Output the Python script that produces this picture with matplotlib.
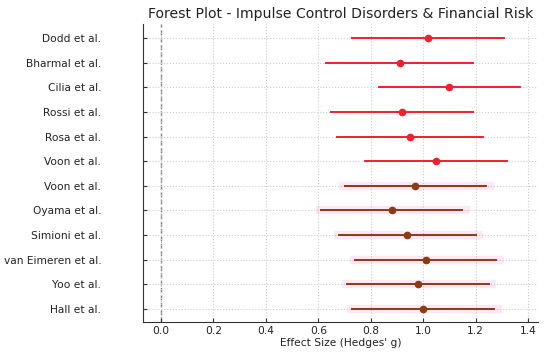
import numpy as np
import matplotlib.pyplot as plt

# study data
studies = ['Dodd et al.', 'Bharmal et al.', 'Cilia et al.', 'Rossi et al.', 'Rosa et al.',
           'Voon et al.', 'Voon et al.', 'Oyama et al.', 'Simioni et al.',
           'van Eimeren et al.', 'Yoo et al.', 'Hall et al.']
effect = [1.02, 0.91, 1.10, 0.92, 0.95, 1.05, 0.97, 0.88, 0.94, 1.01, 0.98, 1.00]
ci_low = [0.73, 0.63, 0.83, 0.65, 0.67, 0.78, 0.70, 0.61, 0.68, 0.74, 0.71, 0.73]
ci_high = [1.31, 1.19, 1.37, 1.19, 1.23, 1.32, 1.24, 1.15, 1.20, 1.28, 1.25, 1.27]
group = ['fin'] * 6 + ['icd'] * 6

colors = {'fin': '#f0202e', 'icd': '#8b3a12'}

fig = plt.figure(figsize=(5.5, 3.56), dpi=100)
ax = fig.add_axes([0.26, 0.0955, 0.718, 0.837])

y = np.arange(len(studies))
for i in range(len(studies)):
    c = colors[group[i]]
    if group[i] == 'icd':
        # faint pink glow behind the second group
        ax.plot([ci_low[i] - 0.02, ci_high[i] + 0.03], [y[i], y[i]], color='#ff80c8',
                alpha=0.18, lw=6, solid_capstyle='butt', zorder=2)
    ax.plot([ci_low[i], ci_high[i]], [y[i], y[i]], color=c, lw=1.4, zorder=3)
    ax.plot(effect[i], y[i], 'o', color=c, ms=4.5, zorder=4)

ax.axvline(0, color='gray', ls='--', lw=1, zorder=1)

ax.set_yticks(y)
ax.set_yticklabels(studies, fontsize=7.7, color='#222222')
ax.set_ylim(len(studies) - 0.47, -0.57)
ax.set_xlim(-0.069, 1.438)
ax.set_xticks(np.arange(0, 1.41, 0.2))
ax.set_xticklabels([f'{v:.1f}' for v in np.arange(0, 1.41, 0.2)], fontsize=7.7, color='#222222')
ax.tick_params(direction='in', length=3, width=0.8, color='#333333')
ax.tick_params(axis='y', pad=30)
ax.tick_params(axis='x', pad=3)
ax.set_xlabel("Effect Size (Hedges' g)", fontsize=7.7, labelpad=1, color='#222222')
ax.set_title('Forest Plot - Impulse Control Disorders & Financial Risk', fontsize=10.1, pad=4,
             color='#222222')
ax.grid(True, ls=':', color='#cccccc', lw=0.8)
ax.spines['top'].set_visible(False)
ax.spines['right'].set_visible(False)
for s in ['left', 'bottom']:
    ax.spines[s].set_color('#333333')

plt.savefig('out.png', dpi=100)
